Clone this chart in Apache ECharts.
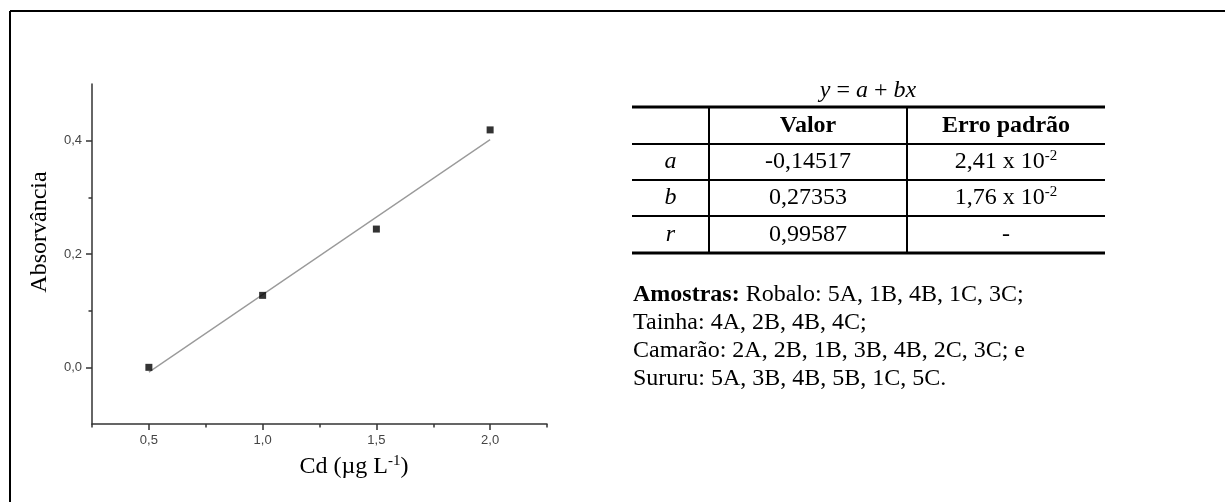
<!DOCTYPE html>
<html>
<head>
<meta charset="utf-8">
<script src="https://cdn.jsdelivr.net/npm/echarts@6/dist/echarts.min.js"></script>
<style>
html,body{margin:0;padding:0;background:#fff;}
#c{width:1225px;height:502px;}
</style>
</head>
<body>
<div id="c"></div>
<script>
// ---- data ----
var xValues = [0.5, 1.0, 1.5, 2.0];
var yValues = [0.0, 0.127, 0.244, 0.419];
var fitX = [0.5, 2.0];
var fitY = [-0.0084, 0.4019];
var xMajorTicks = [0.5, 1.0, 1.5, 2.0];
var xMinorTicks = [0.25, 0.75, 1.25, 1.75, 2.25];
var yMajorTicks = [0.0, 0.2, 0.4];
var yMinorTicks = [0.1, 0.3];
var tableParams = ['a', 'b', 'r'];
var tableValues = ['-0,14517', '0,27353', '0,99587'];
var tableErrBase = ['2,41 x 10', '1,76 x 10', '-'];
var tableErrExp = ['-2', '-2', ''];
var amostrasLines = [
  ['Amostras:', ' Robalo: 5A, 1B, 4B, 1C, 3C;'],
  ['', 'Tainha: 4A, 2B, 4B, 4C;'],
  ['', 'Camarão: 2A, 2B, 1B, 3B, 4B, 2C, 3C; e'],
  ['', 'Sururu: 5A, 3B, 4B, 5B, 1C, 5C.']
];

var serif = '"Liberation Serif", "Times New Roman", serif';
var sans = 'Arial, "Liberation Sans", sans-serif';
var fs = 24;

function fmt(v) { return v.toFixed(1).replace('.', ','); }

var scatterData = xValues.map(function (x, i) { return [x, yValues[i]]; });
var fitData = fitX.map(function (x, i) { return [x, fitY[i]]; });

// ---- graphic (frame, titles, table, notes) ----
var g = [];
g.push({ type: 'line', shape: { x1: 10, y1: 11, x2: 1225, y2: 11 }, style: { stroke: '#000', lineWidth: 2 } });
g.push({ type: 'line', shape: { x1: 10, y1: 11, x2: 10, y2: 502 }, style: { stroke: '#000', lineWidth: 2 } });

// axis titles
g.push({ type: 'text', x: 40, y: 232, rotation: Math.PI / 2,
  style: { text: 'Absorvância', font: '24px ' + serif, fill: '#000', textAlign: 'center', textVerticalAlign: 'middle' } });
g.push({ type: 'text', x: 354, y: 467,
  style: { text: '{n|Cd (µg L}{s|-1}{n|)}', fill: '#000', textAlign: 'center', textVerticalAlign: 'middle',
    rich: { n: { fontFamily: serif, fontSize: 24, lineHeight: 26, verticalAlign: 'middle' },
            s: { fontFamily: serif, fontSize: 15, lineHeight: 26, verticalAlign: 'top' } } } });

// table
var tL = 632, tR = 1105, c1 = 709, c2 = 907;
var rowY = [107, 144, 180, 216, 253];
g.push({ type: 'text', x: 868, y: 91,
  style: { text: '{i|y} = {i|a} + {i|bx}', fill: '#000', textAlign: 'center', textVerticalAlign: 'middle',
    fontFamily: serif, fontSize: fs,
    rich: { i: { fontFamily: serif, fontSize: fs, fontStyle: 'italic' } } } });
g.push({ type: 'line', shape: { x1: tL, y1: rowY[0], x2: tR, y2: rowY[0] }, style: { stroke: '#000', lineWidth: 3 } });
g.push({ type: 'line', shape: { x1: tL, y1: rowY[4], x2: tR, y2: rowY[4] }, style: { stroke: '#000', lineWidth: 3 } });
for (var k = 1; k <= 3; k++) {
  g.push({ type: 'line', shape: { x1: tL, y1: rowY[k], x2: tR, y2: rowY[k] }, style: { stroke: '#000', lineWidth: 2 } });
}
[c1, c2].forEach(function (cx) {
  g.push({ type: 'line', shape: { x1: cx, y1: rowY[0], x2: cx, y2: rowY[4] }, style: { stroke: '#000', lineWidth: 2 } });
});
var colC = [(tL + c1) / 2, (c1 + c2) / 2, (c2 + tR) / 2];
g.push({ type: 'text', x: colC[1], y: (rowY[0] + rowY[1]) / 2,
  style: { text: 'Valor', font: 'bold ' + fs + 'px ' + serif, fill: '#000', textAlign: 'center', textVerticalAlign: 'middle' } });
g.push({ type: 'text', x: colC[2], y: (rowY[0] + rowY[1]) / 2,
  style: { text: 'Erro padrão', font: 'bold ' + fs + 'px ' + serif, fill: '#000', textAlign: 'center', textVerticalAlign: 'middle' } });
tableParams.forEach(function (p, i) {
  var cy = (rowY[i + 1] + rowY[i + 2]) / 2;
  g.push({ type: 'text', x: colC[0], y: cy,
    style: { text: p, font: 'italic ' + fs + 'px ' + serif, fill: '#000', textAlign: 'center', textVerticalAlign: 'middle' } });
  g.push({ type: 'text', x: colC[1], y: cy,
    style: { text: tableValues[i], font: fs + 'px ' + serif, fill: '#000', textAlign: 'center', textVerticalAlign: 'middle' } });
  var t = tableErrExp[i] ? '{n|' + tableErrBase[i] + '}{s|' + tableErrExp[i] + '}' : '{n|' + tableErrBase[i] + '}';
  g.push({ type: 'text', x: colC[2], y: cy,
    style: { text: t, fill: '#000', textAlign: 'center', textVerticalAlign: 'middle',
      rich: { n: { fontFamily: serif, fontSize: fs, lineHeight: 26, verticalAlign: 'middle' },
              s: { fontFamily: serif, fontSize: 15, lineHeight: 26, verticalAlign: 'top' } } } });
});

// amostras notes
var amText = amostrasLines.map(function (l) {
  return (l[0] ? '{b|' + l[0] + '}' : '') + '{n|' + l[1] + '}';
}).join('\n');
g.push({ type: 'text', x: 633, y: 281,
  style: { text: amText, fill: '#000', textAlign: 'left', textVerticalAlign: 'top',
    rich: { b: { fontFamily: serif, fontSize: fs, fontWeight: 'bold', lineHeight: 28 },
            n: { fontFamily: serif, fontSize: fs, lineHeight: 28 } } } });

var axisLineStyle = { color: '#333', width: 1.5 };

var option = {
  backgroundColor: '#fff',
  animation: false,
  grid: { left: 92, top: 84, right: 678, bottom: 78, containLabel: false },
  xAxis: [
    { type: 'value', min: 0.25, max: 2.25, position: 'bottom',
      axisLine: { show: true, lineStyle: axisLineStyle, onZero: false },
      axisTick: { show: true, customValues: xMajorTicks, length: 6, inside: false, lineStyle: axisLineStyle },
      axisLabel: { show: true, customValues: xMajorTicks, formatter: fmt, color: '#444', fontFamily: sans, fontSize: 13, margin: 10 },
      splitLine: { show: false } },
    { type: 'value', min: 0.25, max: 2.25, position: 'bottom',
      axisLine: { show: false, onZero: false },
      axisTick: { show: true, customValues: xMinorTicks, length: 3.5, lineStyle: axisLineStyle },
      axisLabel: { show: false },
      splitLine: { show: false } }
  ],
  yAxis: [
    { type: 'value', min: -0.1, max: 0.5, position: 'left',
      axisLine: { show: true, lineStyle: axisLineStyle, onZero: false },
      axisTick: { show: true, customValues: yMajorTicks, length: 6, lineStyle: axisLineStyle },
      axisLabel: { show: true, customValues: yMajorTicks, formatter: fmt, color: '#444', fontFamily: sans, fontSize: 13, margin: 10 },
      splitLine: { show: false } },
    { type: 'value', min: -0.1, max: 0.5, position: 'left',
      axisLine: { show: false, onZero: false },
      axisTick: { show: true, customValues: yMinorTicks, length: 3.5, lineStyle: axisLineStyle },
      axisLabel: { show: false },
      splitLine: { show: false } }
  ],
  series: [
    { type: 'line', data: fitData, xAxisIndex: 0, yAxisIndex: 0, showSymbol: false, symbol: 'none',
      lineStyle: { color: '#9a9a9a', width: 1.3 }, z: 2, silent: true },
    { type: 'scatter', data: scatterData, xAxisIndex: 0, yAxisIndex: 0, symbol: 'rect', symbolSize: 7,
      itemStyle: { color: '#000' }, z: 3, silent: true }
  ],
  graphic: g
};

var chart = echarts.init(document.getElementById('c'), null, { renderer: 'canvas' });
chart.setOption(option);
</script>
</body>
</html>
